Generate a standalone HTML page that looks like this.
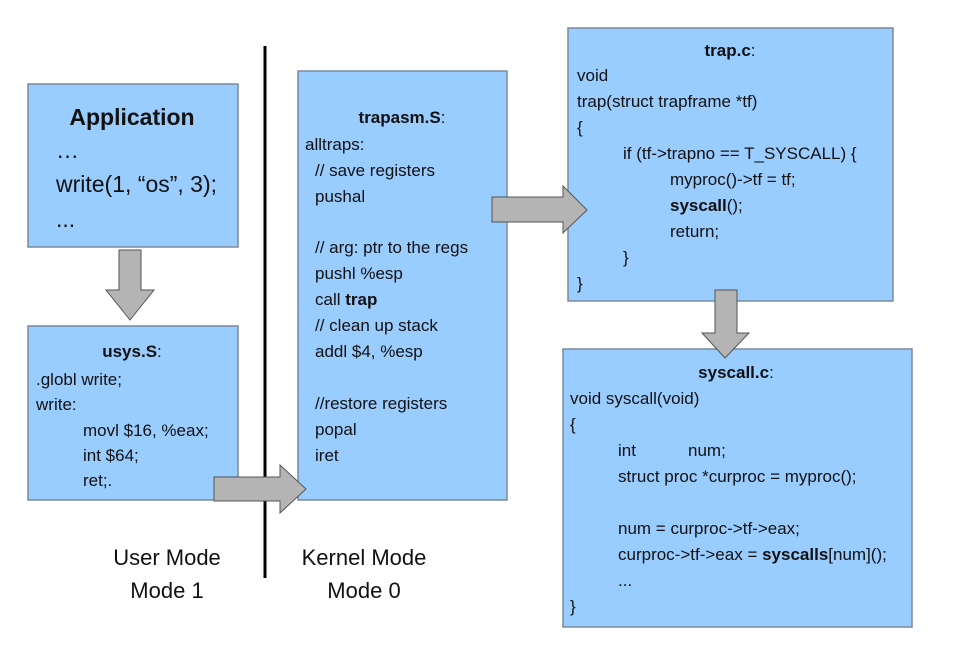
<!DOCTYPE html>
<html><head><meta charset="utf-8"><style>
body{margin:0;background:#fff;}
svg{display:block;font-family:"Liberation Sans",sans-serif;}
.t{font-size:17px;fill:#111;}
.b{font-weight:bold;}
</style></head><body>
<svg width="957" height="646" viewBox="0 0 957 646" xmlns="http://www.w3.org/2000/svg">
<g fill="#99ccff" stroke="#7a8a9a" stroke-width="1.5">
<rect x="28" y="84" width="210" height="163"/>
<rect x="28" y="326" width="210" height="174"/>
<rect x="298" y="71" width="209" height="429"/>
<rect x="568" y="28" width="325" height="273"/>
<rect x="563" y="349" width="349" height="278"/>
</g>
<line x1="265" y1="46" x2="265" y2="578" stroke="#000" stroke-width="3"/>
<g fill="#b4b4b4" stroke="#555" stroke-width="1">
<polygon points="119,250 141,250 141,290 154,290 130,320 106,290 119,290"/>
<polygon points="214,477 280,477 280,465 306,489 280,513 280,501 214,501"/>
<polygon points="492,197 563,197 563,186 587,210 563,233 563,222 492,222"/>
<polygon points="715,290 737,290 737,333 749,333 725,358 702,333 715,333"/>
</g>
<text x="132" y="125" text-anchor="middle" font-size="23" font-weight="bold" fill="#111">Application</text>
<text x="56" y="158" font-size="23" fill="#111">…</text>
<text x="56" y="192" font-size="23" fill="#111">write(1, “os”, 3);</text>
<text x="56" y="227" font-size="23" fill="#111">...</text>

<g class="t">
<text x="132" y="357" text-anchor="middle" class="t"><tspan class="b">usys.S</tspan>:</text>
<text x="36" y="385" class="t">.globl write;</text>
<text x="36" y="410" class="t">write:</text>
<text x="83" y="436" class="t">movl $16, %eax;</text>
<text x="83" y="461" class="t">int $64;</text>
<text x="83" y="486" class="t">ret;.</text>

<text x="402" y="123" text-anchor="middle" class="t"><tspan class="b">trapasm.S</tspan>:</text>
<text x="305" y="150" class="t">alltraps:</text>
<text x="315" y="176" class="t">// save registers</text>
<text x="315" y="202" class="t">pushal</text>
<text x="315" y="253" class="t">// arg: ptr to the regs</text>
<text x="315" y="279" class="t">pushl %esp</text>
<text x="315" y="305" class="t">call <tspan class="b">trap</tspan></text>
<text x="315" y="331" class="t">// clean up stack</text>
<text x="315" y="357" class="t">addl $4, %esp</text>
<text x="315" y="409" class="t">//restore registers</text>
<text x="315" y="435" class="t">popal</text>
<text x="315" y="461" class="t">iret</text>

<text x="730" y="56" text-anchor="middle" class="t"><tspan class="b">trap.c</tspan>:</text>
<text x="577" y="81" class="t">void</text>
<text x="577" y="107" class="t">trap(struct trapframe *tf)</text>
<text x="577" y="133" class="t">{</text>
<text x="623" y="159" class="t">if (tf-&gt;trapno == T_SYSCALL) {</text>
<text x="670" y="185" class="t">myproc()-&gt;tf = tf;</text>
<text x="670" y="211" class="t"><tspan class="b">syscall</tspan>();</text>
<text x="670" y="237" class="t">return;</text>
<text x="623" y="263" class="t">}</text>
<text x="577" y="289" class="t">}</text>

<text x="736" y="378" text-anchor="middle" class="t"><tspan class="b">syscall.c</tspan>:</text>
<text x="570" y="404" class="t">void syscall(void)</text>
<text x="570" y="430" class="t">{</text>
<text x="618" y="456" class="t">int</text>
<text x="688" y="456" class="t">num;</text>
<text x="618" y="482" class="t">struct proc *curproc = myproc();</text>
<text x="618" y="534" class="t">num = curproc-&gt;tf-&gt;eax;</text>
<text x="618" y="560" class="t">curproc-&gt;tf-&gt;eax = <tspan class="b">syscalls</tspan>[num]();</text>
<text x="618" y="586" class="t">...</text>
<text x="570" y="612" class="t">}</text>
</g>
<text x="167" y="565" text-anchor="middle" font-size="22" fill="#111">User Mode</text>
<text x="167" y="598" text-anchor="middle" font-size="22" fill="#111">Mode 1</text>
<text x="364" y="565" text-anchor="middle" font-size="22" fill="#111">Kernel Mode</text>
<text x="364" y="598" text-anchor="middle" font-size="22" fill="#111">Mode 0</text>
</svg>
</body></html>
